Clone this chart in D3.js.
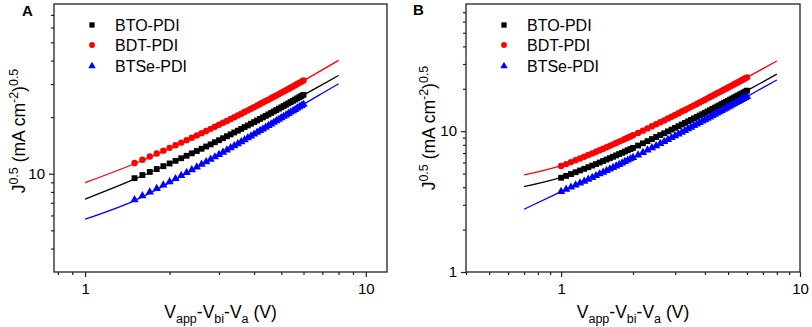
<!DOCTYPE html>
<html>
<head>
<meta charset="utf-8">
<script src="https://cdn.jsdelivr.net/npm/d3@7"></script>
<style>
  body { margin: 0; background: #fff; }
  svg { display: block; font-family: Arial, "Liberation Sans", sans-serif; }
</style>
</head>
<body>
<svg id="chart" width="812" height="327"></svg>
<script>
// series info
const seriesNames = ["BTO-PDI", "BDT-PDI", "BTSe-PDI"];
const seriesColors = ["#000000", "#ff0000", "#0000ff"];
const seriesShapes = [d3.symbolSquare, d3.symbolCircle, d3.symbolTriangle];

// panel A measured points (V, J^0.5)
const voltA = [1.5,1.6,1.7,1.8,1.9,2.0,2.1,2.2,2.3,2.4,2.5,2.6,2.7,2.8,2.9,3.0,3.1,3.2,3.3,3.4,3.5,3.6,3.7,3.8,3.9,
  4.0,4.1,4.2,4.3,4.4,4.5,4.6,4.7,4.8,4.9,5.0,5.1,5.2,5.3,5.4,5.5,5.6,5.7,5.8,5.9,6.0];
const btoA = [9.47,9.84,10.22,10.59,10.97,11.34,11.71,12.09,12.46,12.84,13.21,13.58,13.96,14.33,14.71,15.08,15.45,15.83,16.20,16.58,
  16.95,17.32,17.70,18.07,18.45,18.82,19.19,19.57,19.94,20.32,20.69,21.06,21.44,21.81,22.19,22.56,22.93,23.31,23.68,24.06,
  24.43,24.80,25.18,25.55,25.93,26.30];
const bdtA = [11.40,11.87,12.35,12.81,13.27,13.73,14.18,14.64,15.09,15.54,15.99,16.44,16.89,17.33,17.77,18.21,18.66,19.09,19.54,19.98,
  20.42,20.86,21.30,21.74,22.18,22.61,23.05,23.48,23.92,24.36,24.79,25.23,25.67,26.09,26.53,26.97,27.41,27.84,28.28,28.71,
  29.15,29.58,30.02,30.45,30.89,31.33];
const btseA = [7.26,7.62,7.98,8.34,8.70,9.05,9.41,9.77,10.13,10.49,10.85,11.21,11.56,11.92,12.28,12.64,13.00,13.36,13.72,14.08,
  14.43,14.79,15.15,15.51,15.87,16.23,16.59,16.95,17.30,17.66,18.02,18.38,18.74,19.10,19.46,19.82,20.17,20.53,20.89,21.25,
  21.61,21.97,22.33,22.68,23.04,23.40];

// panel A fit lines
const fitVoltA = [1, 1.5, 2, 3, 4, 5, 6, 7, 8];
const btoFitA = [7.32, 9.35, 11.3, 15.0, 18.8, 22.5, 26.2, 29.8, 33.3];
const bdtFitA = [8.97, 11.3, 13.6, 18.1, 22.5, 26.9, 31.3, 35.7, 40.1];
const btseFitA = [5.73, 7.2, 8.95, 12.6, 16.2, 19.8, 23.4, 26.8, 30.1];

// panel B measured points
const voltB = [1.00,1.05,1.10,1.15,1.20,1.25,1.30,1.35,1.40,1.45,1.50,1.55,1.60,1.65,1.70,1.75,1.80,1.85,1.90,1.95,2.00,
  2.1,2.2,2.3,2.4,2.5,2.6,2.7,2.8,2.9,3.0,3.1,3.2,3.3,3.4,3.5,3.6,3.7,3.8,3.9,
  4.0,4.1,4.2,4.3,4.4,4.5,4.6,4.7,4.8,4.9,5.0,5.1,5.2,5.3,5.4,5.5,5.6,5.7,5.8,5.9,6.0];
const btoB = [4.67,4.81,4.96,5.11,5.26,5.40,5.55,5.70,5.84,5.99,6.14,6.29,6.43,6.58,6.73,6.88,7.02,7.17,7.32,7.46,7.61,
  7.91,8.20,8.50,8.79,9.09,9.38,9.67,9.97,10.26,10.56,10.85,11.15,11.44,11.74,12.03,12.33,12.62,12.91,13.21,
  13.50,13.80,14.09,14.39,14.68,14.98,15.27,15.57,15.86,16.16,16.45,16.74,17.04,17.33,17.63,17.92,18.22,18.51,18.81,19.10,19.40];
const bdtB = [5.66,5.84,6.03,6.21,6.40,6.58,6.77,6.95,7.14,7.32,7.51,7.69,7.87,8.06,8.24,8.43,8.61,8.80,8.98,9.17,9.35,
  9.72,10.09,10.46,10.83,11.20,11.56,11.93,12.30,12.67,13.04,13.41,13.78,14.15,14.52,14.89,15.25,15.62,15.99,16.36,
  16.73,17.10,17.47,17.84,18.21,18.58,18.94,19.31,19.68,20.05,20.42,20.79,21.16,21.53,21.90,22.27,22.63,23.00,23.37,23.74,24.11];
const btseB = [3.72,3.86,4.00,4.14,4.28,4.41,4.55,4.69,4.83,4.97,5.11,5.25,5.39,5.52,5.66,5.80,5.94,6.08,6.22,6.36,6.50,
  6.77,7.05,7.33,7.61,7.88,8.16,8.44,8.72,8.99,9.27,9.55,9.83,10.10,10.38,10.66,10.94,11.22,11.49,11.77,
  12.05,12.33,12.60,12.88,13.16,13.44,13.71,13.99,14.27,14.55,14.82,15.10,15.38,15.66,15.93,16.21,16.49,16.77,17.04,17.32,17.60];

// panel B fit lines
const fitVoltB = [0.7, 1, 1.5, 2, 3, 4, 5, 6, 7, 8];
const btoFitB = [4.04, 4.7, 6.15, 7.6, 10.55, 13.5, 16.45, 19.4, 22.4, 25.4];
const bdtFitB = [4.89, 5.7, 7.5, 9.35, 13.05, 16.7, 20.4, 24.1, 27.8, 31.5];
const btseFitB = [2.79, 3.72, 5.1, 6.5, 9.25, 12.05, 14.85, 17.6, 20.4, 23.1];

// ticks
const xMajor = [1, 10];
const xMinorA = [0.8, 0.9, 2, 3, 4, 5, 6, 7, 8, 9];
const xMinorB = [0.4, 0.5, 0.6, 0.7, 0.8, 0.9, 2, 3, 4, 5, 6, 7, 8, 9];
const yMajorA = [10];
const yMinorA = [4, 5, 6, 7, 8, 9, 20, 30, 40, 50, 60, 70];
const yMajorB = [1, 10];
const yMinorB = [2, 3, 4, 5, 6, 7, 8, 9, 20, 30, 40, 50, 60, 70];

const svg = d3.select("#chart");

function drawPanel(p) {
  const x = d3.scaleLog().domain(p.xDom).range([p.left, p.right]);
  const y = d3.scaleLog().domain(p.yDom).range([p.bottom, p.top]);
  const g = svg.append("g");

  // x axis: minor then major
  g.append("g")
    .attr("transform", `translate(0,${p.bottom})`)
    .call(d3.axisBottom(x).tickValues(p.xMinor).tickSize(3).tickFormat(""))
    .call(a => a.select(".domain").remove());
  g.append("g")
    .attr("transform", `translate(0,${p.bottom})`)
    .call(d3.axisBottom(x).tickValues(xMajor).tickSize(5).tickPadding(6).tickFormat(d3.format("d")))
    .call(a => a.select(".domain").remove())
    .selectAll("text").style("font-size", "15px").attr("fill", "#000");

  // y axis
  g.append("g")
    .attr("transform", `translate(${p.left},0)`)
    .call(d3.axisLeft(y).tickValues(p.yMinor).tickSize(3).tickFormat(""))
    .call(a => a.select(".domain").remove());
  g.append("g")
    .attr("transform", `translate(${p.left},0)`)
    .call(d3.axisLeft(y).tickValues(p.yMajor).tickSize(5).tickPadding(4).tickFormat(d3.format("d")))
    .call(a => a.select(".domain").remove())
    .selectAll("text").style("font-size", "15px").attr("fill", "#000");

  g.selectAll(".tick line").attr("stroke", "#222").attr("stroke-width", 1.2);

  // frame
  g.append("rect")
    .attr("x", p.left).attr("y", p.top)
    .attr("width", p.right - p.left).attr("height", p.bottom - p.top)
    .attr("fill", "none").attr("stroke", "#222").attr("stroke-width", 1.3);

  // fit lines
  const line = d3.line()
    .x(d => x(d[0]))
    .y(d => y(d[1]))
    .curve(d3.curveMonotoneX);
  p.fits.forEach((vals, i) => {
    g.append("path")
      .datum(p.fitVolt.map((v, k) => [v, vals[k]]))
      .attr("d", line)
      .attr("fill", "none")
      .attr("stroke", seriesColors[i])
      .attr("stroke-width", 1.3);
  });

  // markers
  const sizes = [34, 32, 30];
  p.series.forEach((vals, i) => {
    const sym = d3.symbol().type(seriesShapes[i]).size(sizes[i]);
    g.append("g").selectAll("path")
      .data(p.volt.map((v, k) => [v, vals[k]]))
      .enter()
      .append("path")
      .attr("transform", d => `translate(${x(d[0])},${y(d[1])})`)
      .attr("d", sym)
      .attr("fill", seriesColors[i]);
  });

  // legend
  seriesNames.forEach((name, i) => {
    const ly = p.legendY[i];
    g.append("path")
      .attr("transform", `translate(${p.legendX},${ly})`)
      .attr("d", d3.symbol().type(seriesShapes[i]).size(sizes[i] - 6))
      .attr("fill", seriesColors[i]);
    g.append("text")
      .attr("x", p.legendX + 23)
      .attr("y", ly + 5.5)
      .style("font-size", "16px")
      .text(name);
  });

  // panel letter
  g.append("text")
    .attr("x", p.letterX).attr("y", p.letterY)
    .style("font-size", "15px").style("font-weight", "bold")
    .text(p.letter);

  // x title
  const xt = g.append("text")
    .attr("x", (p.left + p.right) / 2)
    .attr("y", 318)
    .attr("text-anchor", "middle")
    .style("font-size", "17.5px");
  xt.append("tspan").text("V");
  xt.append("tspan").attr("dy", 5).style("font-size", "12.5px").text("app");
  xt.append("tspan").attr("dy", -5).text("-V");
  xt.append("tspan").attr("dy", 5).style("font-size", "12.5px").text("bi");
  xt.append("tspan").attr("dy", -5).text("-V");
  xt.append("tspan").attr("dy", 5).style("font-size", "12.5px").text("a");
  xt.append("tspan").attr("dy", -5).text(" (V)");

  // y title
  const yt = g.append("text")
    .attr("transform", `translate(${p.yTitleX},${p.yTitleY}) rotate(-90)`)
    .attr("text-anchor", "middle")
    .style("font-size", "17.5px");
  yt.append("tspan").text("J");
  yt.append("tspan").attr("dy", -7).style("font-size", "12.5px").text("0.5");
  yt.append("tspan").attr("dy", 7).text(" (mA cm");
  yt.append("tspan").attr("dy", -7).style("font-size", "12.5px").text("-2");
  yt.append("tspan").attr("dy", 7).text(")");
  yt.append("tspan").attr("dy", -7).style("font-size", "12.5px").text("0.5");
}

drawPanel({
  letter: "A", letterX: 22, letterY: 16,
  left: 54, right: 387, top: 4, bottom: 272,
  xDom: [0.775, 11.9], yDom: [3, 80],
  xMinor: xMinorA, yMajor: yMajorA, yMinor: yMinorA,
  volt: voltA, series: [btoA, bdtA, btseA],
  fitVolt: fitVoltA, fits: [btoFitA, bdtFitA, btseFitA],
  legendX: 92, legendY: [25, 45, 66],
  yTitleX: 25, yTitleY: 131
});

drawPanel({
  letter: "B", letterX: 413, letterY: 15,
  left: 466, right: 800, top: 4, bottom: 272,
  xDom: [0.4, 10], yDom: [1, 80],
  xMinor: xMinorB, yMajor: yMajorB, yMinor: yMinorB,
  volt: voltB, series: [btoB, bdtB, btseB],
  fitVolt: fitVoltB, fits: [btoFitB, bdtFitB, btseFitB],
  legendX: 504, legendY: [25, 45, 66],
  yTitleX: 435, yTitleY: 128
});
</script>
</body>
</html>
